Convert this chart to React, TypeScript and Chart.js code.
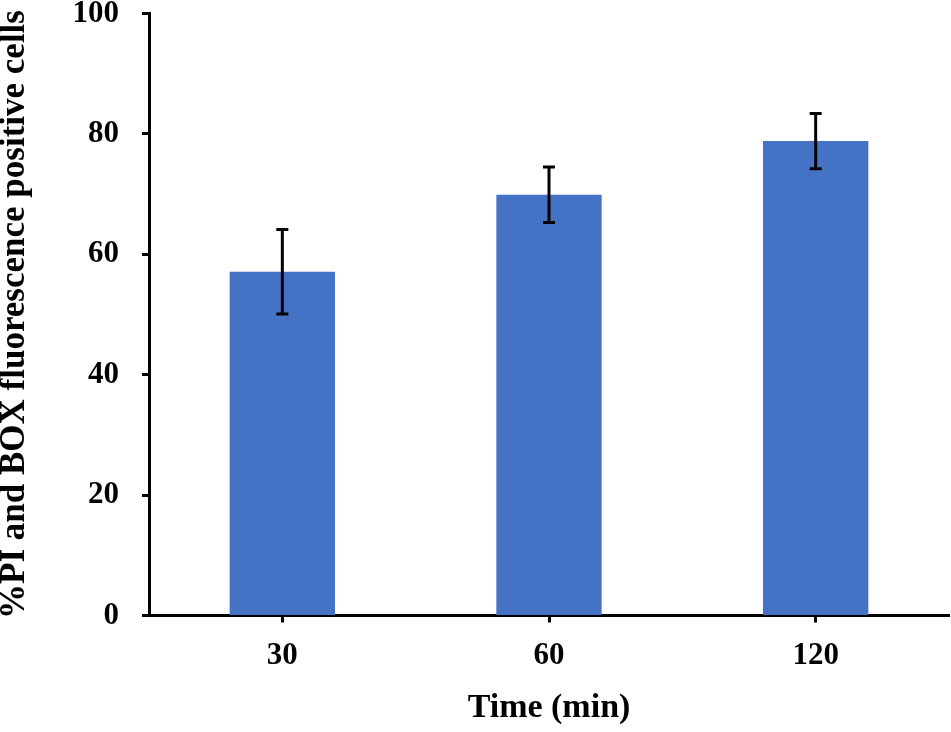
import { useEffect, useRef } from 'react';
import { Chart, registerables } from 'chart.js';

Chart.register(...registerables);

const timeLabels = ['30', '60', '120'];
const positiveCells = [57.1, 69.9, 78.8];
const positiveErrors = [7.0, 4.6, 4.6];
const yTicks = [0, 20, 40, 60, 80, 100];

const barColor = '#4472C4';
const fontFamily = '"Liberation Serif", "Times New Roman", serif';

// draws the +/- error bars on top of the bars, using the chart's own scales
const errorBars = {
  id: 'errorBars',
  afterDatasetsDraw(chart: Chart) {
    const ctx = chart.ctx;
    const meta = chart.getDatasetMeta(0);
    const yScale = chart.scales.y;
    ctx.save();
    ctx.strokeStyle = '#000000';
    ctx.lineWidth = 3;
    meta.data.forEach((bar: any, i: number) => {
      const x = bar.x;
      const top = yScale.getPixelForValue(positiveCells[i] + positiveErrors[i]);
      const bottom = yScale.getPixelForValue(positiveCells[i] - positiveErrors[i]);
      ctx.beginPath();
      ctx.moveTo(x, top);
      ctx.lineTo(x, bottom);
      ctx.moveTo(x - 6, top);
      ctx.lineTo(x + 6, top);
      ctx.moveTo(x - 6, bottom);
      ctx.lineTo(x + 6, bottom);
      ctx.stroke();
    });
    ctx.restore();
  },
};

export default function App() {
  const chartRef = useRef<HTMLCanvasElement>(null);
  const chartInstance = useRef<Chart | null>(null);

  useEffect(() => {
    if (!chartRef.current) return;

    if (chartInstance.current) {
      chartInstance.current.destroy();
    }

    const ctx = chartRef.current.getContext('2d');
    if (ctx) {
      chartInstance.current = new Chart(ctx, {
        type: 'bar',
        data: {
          labels: timeLabels,
          datasets: [{
            label: '%PI and BOX fluorescence positive cells',
            data: positiveCells,
            backgroundColor: barColor,
            borderWidth: 0,
            barPercentage: 0.395,
            categoryPercentage: 1,
          }]
        },
        options: {
          responsive: true,
          maintainAspectRatio: false,
          animation: false,
          layout: {
            padding: { top: 13.5, right: 2, bottom: 0, left: 0 }
          },
          scales: {
            x: {
              afterFit: (scale: any) => {
                scale.height = 116.5;
                scale.paddingLeft = 0;
                scale.paddingRight = 0;
              },
              grid: {
                display: true,
                drawOnChartArea: false,
                drawTicks: true,
                offset: false,
                tickLength: 7,
                tickWidth: 3,
                tickColor: '#000000',
              },
              border: { display: true, color: '#000000', width: 3 },
              ticks: {
                color: '#000000',
                padding: 15,
                font: { family: fontFamily, size: 31, weight: 'bold' },
              },
              title: {
                display: true,
                text: 'Time (min)',
                color: '#000000',
                padding: { top: 0, bottom: 3 },
                font: { family: fontFamily, size: 34, weight: 'bold' },
              },
            },
            y: {
              min: 0,
              max: 100,
              afterFit: (scale: any) => {
                scale.width = 149;
                scale.paddingTop = 0;
                scale.paddingBottom = 0;
              },
              afterBuildTicks: (scale: any) => {
                scale.ticks = yTicks.map((v) => ({ value: v }));
              },
              grid: {
                display: true,
                drawOnChartArea: false,
                drawTicks: true,
                tickLength: 7,
                tickWidth: 3,
                tickColor: '#000000',
              },
              border: { display: true, color: '#000000', width: 3 },
              ticks: {
                color: '#000000',
                padding: 23,
                font: { family: fontFamily, size: 31, weight: 'bold' },
              },
              title: {
                display: true,
                text: '%PI and BOX fluorescence positive cells',
                color: '#000000',
                padding: { top: 5, bottom: 0 },
                font: { family: fontFamily, size: 35, weight: 'bold', lineHeight: 0.55 },
              },
            },
          },
          plugins: {
            legend: { display: false },
            tooltip: { enabled: false },
          }
        },
        plugins: [errorBars],
      });
    }

    return () => {
      if (chartInstance.current) {
        chartInstance.current.destroy();
        chartInstance.current = null;
      }
    };
  }, []);

  return (
    <div style={{ position: 'fixed', left: 0, top: 0, width: '951px', height: '732px', background: '#ffffff' }}>
      <canvas ref={chartRef} />
    </div>
  );
}
